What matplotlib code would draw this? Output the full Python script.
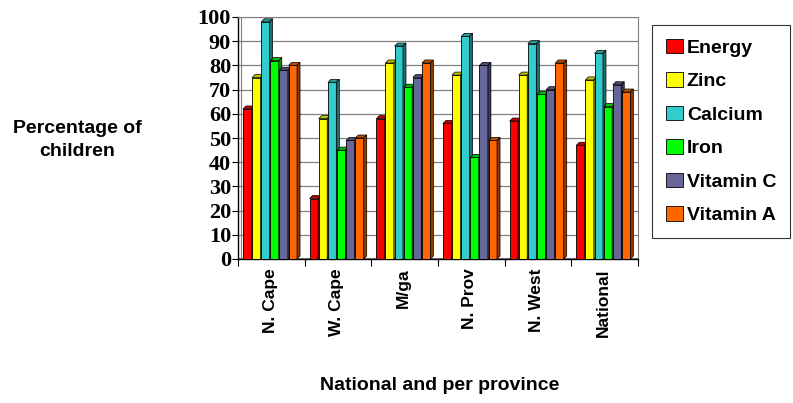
import numpy as np
import matplotlib.pyplot as plt
from matplotlib.patches import Polygon
from matplotlib.colors import to_rgb

# data
provinces = ["N. Cape", "W. Cape", "M/ga", "N. Prov", "N. West", "National"]
nutrients = ["Energy", "Zinc", "Calcium", "Iron", "Vitamin C", "Vitamin A"]
energy = [62, 25, 58, 56, 57, 47]
zinc = [75, 58, 81, 76, 76, 74]
calcium = [98, 73, 88, 92, 89, 85]
iron = [82, 45, 71, 42, 68, 63]
vitamin_c = [78, 49, 75, 80, 70, 72]
vitamin_a = [80, 50, 81, 49, 81, 69]
colors = ["#FF0000", "#FFFF00", "#33CCCC", "#00FF00", "#666699", "#FF6600"]

series = [energy, zinc, calcium, iron, vitamin_c, vitamin_a]

W, H = 793, 403
fig = plt.figure(figsize=(W / 100, H / 100), dpi=100)
ax_l, ax_r, ax_t, ax_b = 238, 638, 17, 259
ax = fig.add_axes([ax_l / W, 1 - ax_b / H, (ax_r - ax_l) / W, (ax_b - ax_t) / H])

ax.set_xlim(-0.5, 5.5)
ax.set_ylim(0, 100)

# pixel -> data sizes for the fake 3D depth
px_x = 6 / (ax_r - ax_l)
px_y = 100 / (ax_b - ax_t)
ddx, ddy = 3 * px_x, 3 * px_y

bw = 0.137
x = np.arange(len(provinces))
for i, (vals, c) in enumerate(zip(series, colors)):
    xs = x - 3 * bw + (i + 0.5) * bw - 0.02
    ax.bar(xs, vals, width=bw * 0.92, color=c, edgecolor="black", linewidth=0.6, zorder=3,
           label=nutrients[i])
    dark = tuple(v * 0.55 for v in to_rgb(c))
    mid = tuple(v * 0.75 for v in to_rgb(c))
    for xc, v in zip(xs, vals):
        l, r = xc - bw * 0.46, xc + bw * 0.46
        top = Polygon([(l, v), (r, v), (r + ddx, v + ddy), (l + ddx, v + ddy)],
                      closed=True, facecolor=mid, edgecolor="black", linewidth=0.5, zorder=3)
        side = Polygon([(r, 0), (r + ddx, ddy), (r + ddx, v + ddy), (r, v)],
                       closed=True, facecolor=dark, edgecolor="black", linewidth=0.5, zorder=3)
        ax.add_patch(top)
        ax.add_patch(side)

# grid on back wall
for g in range(10, 101, 10):
    ax.axhline(g, color="#808080", linewidth=0.9, zorder=1)
ax.axvline(-0.5 + ddx, color="#808080", linewidth=0.8, zorder=1)
ax.axhline(ddy * 0.4, color="#808080", linewidth=0.8, zorder=1)

for s in ["top", "right"]:
    ax.spines[s].set_color("#808080")
for s in ["left", "bottom"]:
    ax.spines[s].set_color("black")
    ax.spines[s].set_linewidth(1.0)

ax.set_yticks(range(0, 101, 10))
ax.set_yticklabels([str(v) for v in range(0, 101, 10)], fontfamily="Liberation Serif",
                   fontweight="bold", fontsize=16)
ax.tick_params(axis="y", length=4, width=0.8, pad=1)

ax.set_xticks(np.arange(-0.5, 6.0, 1.0))
ax.set_xticklabels([])
ax.tick_params(axis="x", length=5, width=0.8)
for xi, name in zip(x, provinces):
    ax.text(xi - 0.02, -4, name, rotation=90, ha="center", va="top",
            fontfamily="Liberation Sans", fontweight="bold", fontsize=12.5)

fig.text(77 / W, 1 - 140 / H, "Percentage of\nchildren", ha="center", va="center",
         fontfamily="Liberation Sans", fontweight="bold", fontsize=14, linespacing=1.45)
fig.text(440 / W, 1 - 385 / H, "National and per province", ha="center", va="center",
         fontfamily="Liberation Sans", fontweight="bold", fontsize=14)

leg = fig.legend(loc="upper left", bbox_to_anchor=(652 / W, 1 - 25 / H),
                 prop={"family": "Liberation Sans", "weight": "bold", "size": 14},
                 frameon=True, fancybox=False, edgecolor="black", handlelength=0.85,
                 handleheight=0.75, handletextpad=0.22, labelspacing=0.8, borderpad=0.72,
                 borderaxespad=0)
leg.get_frame().set_linewidth(0.8)
for h in leg.legend_handles:
    h.set_linewidth(0.6)

fig.savefig("out.png", dpi=100)
